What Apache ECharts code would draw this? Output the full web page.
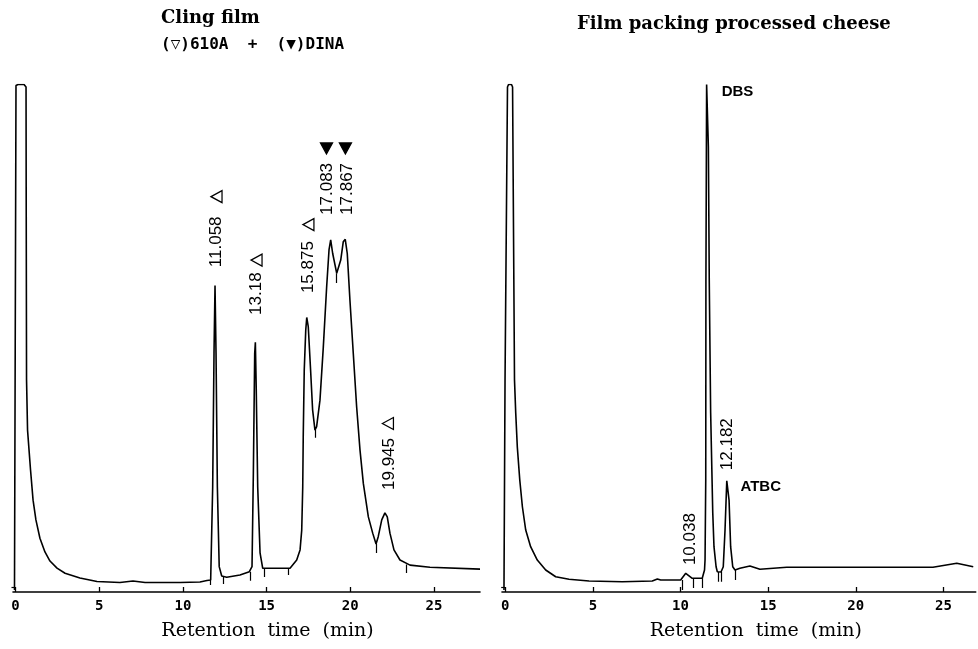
<!DOCTYPE html>
<html><head><meta charset="utf-8">
<script src="https://cdn.jsdelivr.net/npm/echarts@6/dist/echarts.min.js"></script>
<style>html,body{margin:0;padding:0;background:#fff}#c{width:978px;height:649px}</style>
</head><body><div id="c"></div>
<script>
// ---- data (retention time in min, detector signal in relative units) ----
const xTicks = [0, 5, 10, 15, 20, 25];

const clingTrace = [
  [-0.06,0.4],[0.03,99.8],[0.15,100],[0.51,100],[0.63,99.5],[0.64,77.2],[0.66,41.8],[0.72,31.9],
  [0.90,24.0],[1.05,18.1],[1.22,14.2],[1.46,10.6],[1.76,7.9],[2.06,6.1],[2.48,4.7],[2.96,3.7],
  [3.85,2.76],[4.87,2.07],[6.24,1.87],[7.02,2.17],[7.74,1.87],[9.83,1.87],[11.02,1.97],[11.44,2.27],
  [11.66,2.36],[11.78,20.7],[11.86,47.1],[11.92,60.4],[11.98,47.1],[12.06,20.7],[12.17,5.0],[12.32,3.15],
  [12.62,2.9],[13.41,3.35],[13.97,4.0],[14.13,5.0],[14.21,23.4],[14.29,47.0],[14.33,49.2],[14.38,40.5],
  [14.47,20.7],[14.61,7.7],[14.77,4.67],[15.60,4.67],[16.40,4.67],[16.80,6.3],[17.00,8.3],[17.10,12.2],
  [17.16,20.7],[17.19,30.6],[17.25,43.7],[17.34,51.6],[17.40,54.1],[17.49,52.3],[17.63,43.7],[17.75,35.9],
  [17.89,31.9],[17.99,32.6],[18.19,37.8],[18.39,48.3],[18.59,60.2],[18.73,67.4],[18.83,69.4],[18.95,66.7],
  [19.19,62.8],[19.43,65.4],[19.58,69.0],[19.70,69.5],[19.82,66.7],[19.98,57.5],[20.18,47.0],[20.38,36.5],
  [20.58,28.0],[20.78,21.4],[21.08,14.8],[21.34,11.6],[21.54,9.46],[21.67,10.9],[21.88,14.2],[22.07,15.6],
  [22.21,14.8],[22.37,11.6],[22.61,8.3],[22.97,6.3],[23.57,5.3],[24.76,4.87],[27.75,4.5]
];

const cheeseTrace = [
  [-0.07,0.4],[-0.01,41.8],[0.13,99.5],[0.19,100],[0.36,100],[0.42,99.5],[0.53,41.8],[0.60,35.3],
  [0.69,28.6],[0.83,22.1],[0.98,16.8],[1.17,12.2],[1.45,8.93],[1.83,6.3],[2.31,4.33],[2.88,3.0],
  [3.64,2.5],[4.78,2.17],[6.68,2.03],[8.39,2.17],[8.68,2.56],[8.87,2.36],[10.01,2.36],[10.30,3.68],
  [10.39,3.88],[10.67,2.7],[11.24,2.7],[11.37,4.33],[11.40,6.3],[11.44,22.1],[11.45,61.5],[11.49,100],
  [11.59,87.7],[11.64,61.5],[11.72,35.3],[11.84,15.6],[11.91,8.93],[12.03,4.98],[12.10,4.0],[12.31,3.94],
  [12.44,4.98],[12.54,12.2],[12.64,21.9],[12.69,21.7],[12.77,18.1],[12.86,8.93],[12.98,4.98],[13.11,4.33],
  [13.39,4.67],[13.96,5.12],[14.53,4.47],[16.06,4.87],[18.70,4.87],[24.40,4.87],[25.76,5.65],[26.70,4.98]
];

// integration marks: [time, top, bottom]
const clingMarks = [
  [11.66,2.36,1.4],[12.41,2.95,1.6],[14.01,4.0,2.2],[14.84,4.67,2.96],[16.30,4.67,3.35],
  [17.89,31.9,30.4],[19.19,62.8,60.9],[21.54,9.46,7.7],[23.37,5.4,3.74]
];
const cheeseMarks = [
  [10.10,2.36,0.4],[10.71,2.7,0.8],[11.24,2.7,0.8],[12.15,3.94,2.0],[12.35,3.94,2.0],[13.14,4.33,2.36]
];

// peak labels: [time, signal, text]
const clingPeakLabels = [
  [12.01,64.0,'11.058'],[14.40,54.6,'13.18'],[17.50,58.9,'15.875'],
  [18.64,74.3,'17.083'],[19.83,74.3,'17.867'],[22.34,20.1,'19.945']
];
const clingOpenMarks = [[12.01,77.9],[14.40,65.4],[17.50,72.4],[22.25,33.2]];
const clingFilledMarks = [[18.58,87.4],[19.71,87.4]];
const cheesePeakLabels = [[10.54,5.3,'10.038'],[12.68,24.0,'12.182']];
const cheeseNames = [[12.35,98.5,'DBS'],[13.42,20.7,'ATBC']];

const titles = ['Cling film', '(▽)610A  +  (▼)DINA', 'Film packing processed cheese'];
const axisName = 'Retention  time  (min)';

// ---- chart ----
const chart = echarts.init(document.getElementById('c'), null, {renderer: 'canvas'});

function xAxisFor(gi, min, max, pad) {
  return {
    type: 'value', gridIndex: gi, min: min, max: max,
    name: axisName, nameLocation: 'middle', nameGap: 30,
    nameTextStyle: {fontFamily: 'DejaVu Serif', fontSize: 19, color: '#000', padding: [0, 0, 0, pad]},
    axisLine: {show: true, lineStyle: {color: '#000', width: 1.6}},
    axisTick: {show: true, inside: true, length: 5, customValues: xTicks, lineStyle: {color: '#000', width: 1.3}},
    axisLabel: {show: true, customValues: xTicks, margin: 7, color: '#000',
      fontFamily: 'DejaVu Sans Mono', fontWeight: 'bold', fontSize: 14},
    splitLine: {show: false}
  };
}
function yAxisFor(gi) {
  return {
    type: 'value', gridIndex: gi, min: 0, max: 100,
    axisLine: {show: false},
    axisTick: {show: true, inside: false, length: 4, customValues: [1], lineStyle: {color: '#000', width: 1.2}},
    axisLabel: {show: false}, splitLine: {show: false}
  };
}
function traceSeries(gi, data) {
  return {type: 'line', xAxisIndex: gi, yAxisIndex: gi, data: data, showSymbol: false, symbol: 'none',
    smooth: false, clip: true, lineStyle: {color: '#000', width: 1.6}, silent: true};
}
function markSeries(gi, marks) {
  return {type: 'lines', coordinateSystem: 'cartesian2d', xAxisIndex: gi, yAxisIndex: gi, silent: true,
    lineStyle: {color: '#000', width: 1.2, opacity: 1},
    data: marks.map(m => ({coords: [[m[0], m[1]], [m[0], m[2]]]}))};
}
function rotLabelSeries(gi, labels) {
  return {type: 'scatter', xAxisIndex: gi, yAxisIndex: gi, symbolSize: 1, silent: true,
    itemStyle: {color: 'rgba(0,0,0,0)', opacity: 1},
    data: labels.map(l => ({value: [l[0], l[1]], name: l[2]})),
    label: {show: true, formatter: p => p.name, position: 'inside', rotate: 90, align: 'left',
      verticalAlign: 'middle', color: '#000', opacity: 1, fontFamily: 'Liberation Sans', fontSize: 17}};
}
function nameSeries(gi, labels) {
  return {type: 'scatter', xAxisIndex: gi, yAxisIndex: gi, symbolSize: 1, silent: true,
    itemStyle: {color: 'rgba(0,0,0,0)', opacity: 1},
    data: labels.map(l => ({value: [l[0], l[1]], name: l[2]})),
    label: {show: true, formatter: p => p.name, position: 'inside', align: 'left', verticalAlign: 'middle',
      color: '#000', opacity: 1, fontFamily: 'Liberation Sans Narrow, Liberation Sans', fontWeight: 'bold', fontSize: 15}};
}
function triSeries(gi, pts, rot, filled) {
  return {type: 'scatter', xAxisIndex: gi, yAxisIndex: gi, symbol: 'triangle', symbolSize: [12, 11],
    symbolRotate: rot, silent: true, data: pts,
    itemStyle: {color: filled ? '#000' : '#fff', borderColor: '#000', borderWidth: 1.3, opacity: 1}};
}

chart.setOption({
  animation: false,
  backgroundColor: '#fff',
  title: [
    {text: titles[0], left: 161, top: 9, padding: 0,
      textStyle: {fontFamily: 'DejaVu Serif', fontWeight: 'bold', fontSize: 18, color: '#000'}},
    {text: titles[1], left: 161, top: 37, padding: 0,
      textStyle: {fontFamily: 'DejaVu Sans Mono', fontWeight: 'bold', fontSize: 16, color: '#000'}},
    {text: titles[2], left: 577, top: 15, padding: 0,
      textStyle: {fontFamily: 'DejaVu Serif', fontWeight: 'bold', fontSize: 18, color: '#000'}}
  ],
  grid: [
    {left: 13, right: 498, top: 84.5, bottom: 57},
    {left: 502, right: 2.3, top: 84.5, bottom: 57}
  ],
  xAxis: [xAxisFor(0, -0.149, 27.75, 42), xAxisFor(1, -0.183, 26.84, 34)],
  yAxis: [yAxisFor(0), yAxisFor(1)],
  series: [
    traceSeries(0, clingTrace),
    traceSeries(1, cheeseTrace),
    markSeries(0, clingMarks),
    markSeries(1, cheeseMarks),
    rotLabelSeries(0, clingPeakLabels),
    rotLabelSeries(1, cheesePeakLabels),
    nameSeries(1, cheeseNames),
    triSeries(0, clingOpenMarks, 90, false),
    triSeries(0, clingFilledMarks, 180, true)
  ]
});
</script></body></html>
